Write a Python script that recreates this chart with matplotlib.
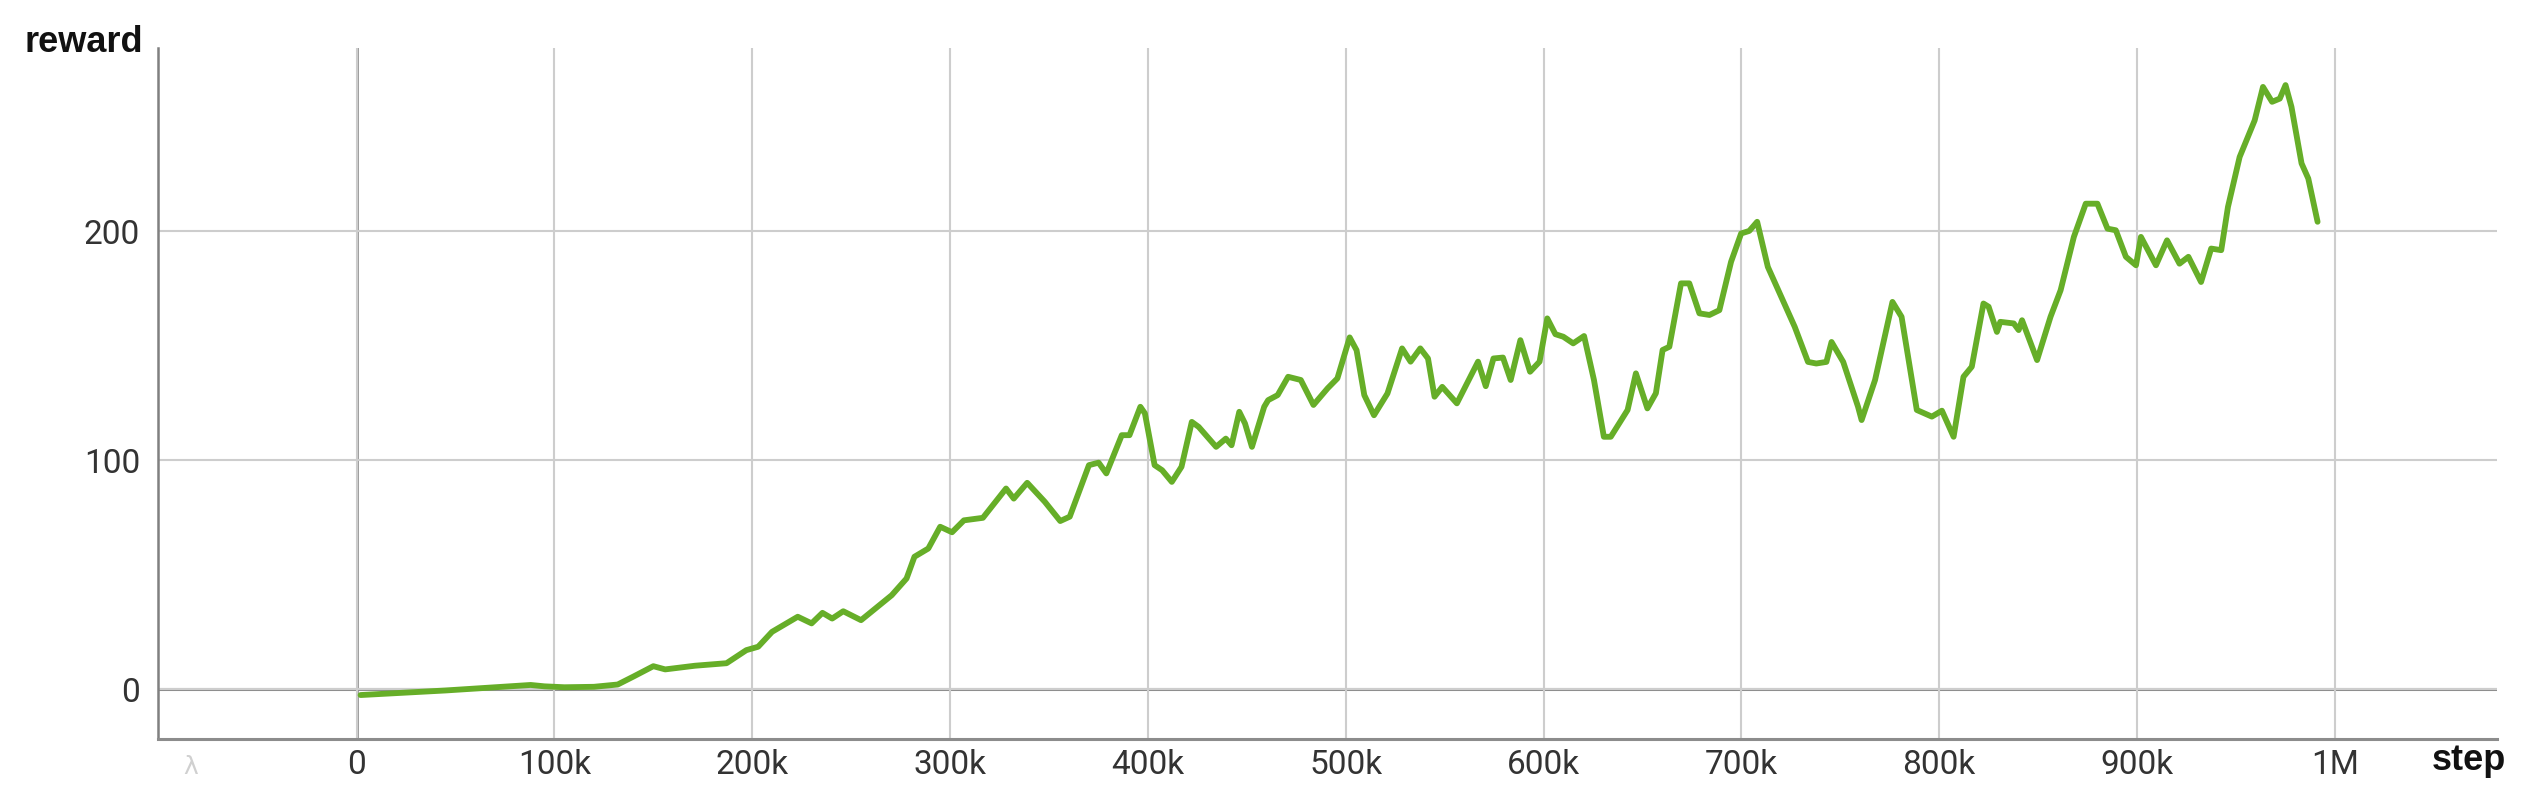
import matplotlib
matplotlib.use("Agg")
import matplotlib.pyplot as plt
import numpy as np

# ---- data (step in thousands, reward) ----
steps_k = [2, 45, 88, 95, 105, 120, 132, 140, 150, 156, 171, 187, 197, 203, 210, 223, 230, 235.5,
           240.4, 246, 255, 270.5, 278, 282, 289, 295, 301,
           307, 316.6, 328.3, 332.2, 339, 347.9, 355.7, 360.5, 370.2, 375.1, 379, 386.8, 390.7,
           396.2, 398.5, 403.4, 407.2, 412.1, 417, 422.2, 425.7, 434.5, 439.4, 442.3, 446.2,
           449.1, 452.6, 458.8, 460.8, 465.6, 470.9, 477.3, 483.7, 490.9, 495.8, 502, 505.5,
           509.4, 514.3, 521.1, 528.5, 532.8, 537.7, 541.6, 544.9, 548.8, 556.2, 566.9, 570.8,
           574.7, 579.5, 583.4, 588.3, 593.2, 598, 601.9, 606,
           610, 615, 620.5, 625.5, 630.5, 634, 642.5, 646.7, 652.5, 656.8, 660.2, 663.6, 669.5,
           673.7, 678.8, 683.9, 688.9, 694.8, 699.9, 704, 708, 713.4, 720.2, 727, 733.7, 737.9,
           743, 745.6, 751.5, 759, 760.8, 767.6, 776.4, 781, 788.7, 796.3, 801.4, 807.3,
           812.3, 816.5, 822.4, 825, 829.2, 830.9, 837.7, 840.2, 841.9, 849.5, 856.3, 861.4,
           868.1, 874.1, 880, 885.1, 889.3, 894.4, 899.5, 902, 909.6, 915.2, 921.5, 926, 932.4,
           937.5, 942.6, 946, 951.9, 959.5, 963.7, 968.3, 972.2, 975.1, 978.1, 983.2, 986.6, 991.3]
reward = [-2.6, -0.6, 1.8, 1.2, 0.8, 1.0, 2.0, 5.5, 10, 8.6, 10.2, 11.3, 17, 18.5, 25, 31.6, 28.7, 33.3,
          30.8, 34, 30.1, 41, 48.3, 57.8, 61.4, 70.9, 68.5,
          73.7, 74.8, 87.6, 83.2, 90.1, 81.8, 73.4, 75.3, 97.8, 98.9, 94.2, 110.9, 110.9,
          123.3, 120.4, 97.8, 95.6, 90.5, 97.1, 116.7, 114.5, 105.8, 109.4, 106.5, 121.1,
          116, 105.8, 123.3, 126.2, 128.4, 136.4, 135, 124.1, 131.4, 135.7, 153.6, 148,
          128.4, 119.6, 129.1, 148.8, 143, 148.8, 144.4, 127.7, 132, 124.8, 143, 132.3,
          144.4, 144.8, 135, 152.4, 138.6, 143, 161.9, 155,
          153.9, 151, 154.2, 135, 110.2, 110.2, 121.9, 137.9, 122.6, 129.2, 148.1, 149.5, 177.2,
          177.2, 164.1, 163.4, 165.5, 186.6, 199, 200.1, 204.1, 184.4, 171.3, 158.2, 142.9, 142.2,
          142.9, 151.6, 142.9, 123.3, 117.5, 135, 169.1, 162.6, 121.9, 119, 121.6, 110.2,
          136.4, 140.8, 168.4, 167, 156, 160.4, 159.7, 156.8, 161.1, 143.7, 162.6, 174.2,
          197.5, 212, 212, 201.1, 200.4, 188.8, 185.1, 197.5, 185.1, 196, 185.8, 188.8, 177.8,
          192.4, 191.7, 210.6, 232.4, 248.4, 263, 256.5, 257.9, 263.8, 254.3, 229.6, 223, 204.1]

x_ticks = [0, 100e3, 200e3, 300e3, 400e3, 500e3, 600e3, 700e3, 800e3, 900e3, 1e6]
x_tick_labels = ["0", "100k", "200k", "300k", "400k", "500k", "600k", "700k", "800k", "900k", "1M"]
y_ticks = [0, 100, 200]
y_tick_labels = ["0", "100", "200"]

W, H, DPI = 2529, 807, 100
fig = plt.figure(figsize=(W / DPI, H / DPI), dpi=DPI)
ax = fig.add_axes([158 / W, 1 - 739 / H, (2497 - 158) / W, (739 - 48) / H])

ax.set_xlim(-100.4e3, 1082e3)
ax.set_ylim(-21.8, 280)

# grid
light = "#cdcdcd"
dark = "#808080"
ax.set_xticks(x_ticks)
ax.set_xticklabels(x_tick_labels)
ax.set_yticks(y_ticks)
ax.set_yticklabels(y_tick_labels)
ax.grid(True, color=light, linewidth=1.5, zorder=0)
ax.axvline(0, color=dark, linewidth=1.8, zorder=1)
ax.axhline(0, color="#8c8c8c", linewidth=2.2, zorder=1)

for s in ["top", "right"]:
    ax.spines[s].set_visible(False)
ax.spines["left"].set_color(dark)
ax.spines["left"].set_linewidth(1.8)
ax.spines["bottom"].set_color("#8c8c8c")
ax.spines["bottom"].set_linewidth(2.2)

ax.tick_params(axis="both", length=0, labelsize=24, labelcolor="#333333")
ax.tick_params(axis="x", pad=7)
ax.tick_params(axis="y", pad=13)
for lab in ax.get_xticklabels() + ax.get_yticklabels():
    lab.set_fontfamily("Roboto")

# line
ax.plot(np.array(steps_k) * 1e3, reward, color="#66ae28", linewidth=4.2,
        solid_joinstyle="round", solid_capstyle="round", zorder=3)

# axis titles
fig.text(143 / W, 1 - 42 / H, "reward", ha="right", va="center",
         fontsize=26, fontweight="bold", family="Liberation Sans", color="#111111")
fig.text(2432 / W, 1 - 761 / H, "step", ha="left", va="center",
         fontsize=26, fontweight="bold", family="Liberation Sans", color="#111111")
# faint leftmost label
fig.text(191 / W, 1 - 767 / H, "λ", ha="center", va="center",
         fontsize=18, family="DejaVu Sans", color="#d0d0d0")

fig.savefig("out.png", dpi=DPI, facecolor="white")
